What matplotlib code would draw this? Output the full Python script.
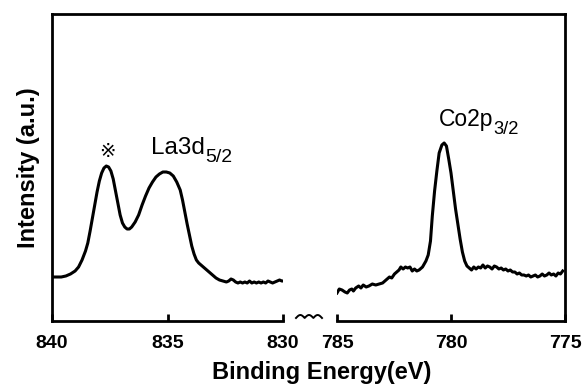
import numpy as np
import matplotlib
matplotlib.use("Agg")
import matplotlib.pyplot as plt

plt.rcParams["font.family"] = ["Liberation Sans", "DejaVu Sans"]

# La 3d region (binding energy in eV, intensity in a.u.)
la_energy = [
    840.00, 839.80, 839.60, 839.40, 839.20, 839.00, 838.85, 838.70, 838.55,
    838.45, 838.35, 838.25, 838.15, 838.05, 837.95, 837.85, 837.75, 837.65,
    837.55, 837.45, 837.35, 837.25, 837.15, 837.05, 836.95, 836.85, 836.75,
    836.65, 836.55, 836.40, 836.25, 836.10, 835.95, 835.80, 835.65, 835.50,
    835.35, 835.20, 835.05, 834.90, 834.75, 834.60, 834.45, 834.35, 834.25,
    834.15, 834.05, 833.95, 833.85, 833.75, 833.65, 833.55, 833.45, 833.35,
    833.20, 833.05, 832.90, 832.75, 832.60, 832.45, 832.35, 832.25, 832.15,
    832.05, 831.95, 831.85, 831.75, 831.65, 831.55, 831.45, 831.35, 831.25,
    831.15, 831.05, 830.95, 830.85, 830.75, 830.65, 830.55, 830.45, 830.35,
    830.25, 830.15, 830.05, 830.00,
]
la_intensity = [
    44, 44, 44, 45, 47, 50, 54, 61, 70,
    78, 90, 103, 116, 129, 140, 148, 153, 155,
    154, 150, 142, 130, 118, 106, 98, 94, 92,
    92, 94, 99, 106, 116, 125, 133, 139, 144,
    147, 149, 149, 148, 145, 139, 131, 121, 109,
    97, 86, 75, 67, 61, 58, 56, 54, 52,
    49, 46, 43, 41, 40, 39, 40, 42, 41,
    39, 38, 39, 38, 39, 38, 40, 38, 39,
    38, 39, 38, 39, 38, 40, 39, 38, 39,
    40, 41, 40, 40,
]

# Co 2p region
co_energy = [
    785.00, 784.90, 784.78, 784.65, 784.55, 784.45, 784.35, 784.28, 784.18,
    784.05, 783.95, 783.85, 783.72, 783.60, 783.45, 783.30, 783.15, 783.00,
    782.85, 782.70, 782.60, 782.48, 782.38, 782.28, 782.20, 782.10, 782.00,
    781.90, 781.80, 781.70, 781.60, 781.50, 781.40, 781.25, 781.10, 781.00,
    780.90, 780.82, 780.72, 780.62, 780.52, 780.40, 780.30, 780.20, 780.10,
    780.00, 779.90, 779.80, 779.70, 779.60, 779.50, 779.40, 779.30, 779.20,
    779.10, 779.00, 778.90, 778.80, 778.70, 778.60, 778.50, 778.40, 778.30,
    778.20, 778.10, 778.00, 777.90, 777.80, 777.70, 777.60, 777.50, 777.40,
    777.30, 777.20, 777.10, 777.00, 776.90, 776.80, 776.70, 776.60, 776.50,
    776.40, 776.30, 776.20, 776.10, 776.00, 775.90, 775.80, 775.70, 775.60,
    775.50, 775.40, 775.30, 775.20, 775.10,
]
co_intensity = [
    28, 32, 31, 29, 28, 31, 32, 30, 33,
    35, 33, 36, 34, 35, 37, 36, 37, 38,
    41, 44, 43, 47, 49, 51, 54, 52, 54,
    53, 54, 50, 52, 50, 51, 54, 60, 66,
    80, 105, 130, 150, 168, 176, 178, 175, 162,
    148, 130, 112, 97, 82, 69, 60, 55, 53,
    51, 54, 52, 54, 53, 56, 53, 55, 54,
    52, 55, 54, 52, 53, 51, 52, 50, 51,
    49, 49, 47, 48, 46, 46, 45, 46, 44,
    45, 46, 44, 45, 47, 45, 46, 48, 46,
    47, 45, 48, 47, 50,
]

la_ticks = [840, 835, 830]
co_ticks = [785, 780, 775]
y_max = 307

W, H = 585, 387
fig = plt.figure(figsize=(W / 100, H / 100), dpi=100)


def fx(px):
    return px / W


def fy(py):
    return 1 - py / H


left, right, top, bottom = 52, 565, 14, 321
gap_l, gap_r = 283, 337
ax_h = fy(top) - fy(bottom)

# outer frame (top, left, right spines)
frame = fig.add_axes([fx(left), fy(bottom), fx(right - left), ax_h])
frame.set_xticks([])
frame.set_yticks([])
frame.spines["bottom"].set_visible(False)
for s in ["top", "left", "right"]:
    frame.spines[s].set_linewidth(2.0)
frame.set_ylabel("Intensity (a.u.)", fontsize=17, fontweight="bold")
frame.yaxis.set_label_coords(-0.023, 0.5)

ax1 = fig.add_axes([fx(left), fy(bottom), fx(gap_l - left), ax_h])
ax2 = fig.add_axes([fx(gap_r), fy(bottom), fx(right - gap_r), ax_h])

for ax, e, i, ticks in [
    (ax1, la_energy, la_intensity, la_ticks),
    (ax2, co_energy, co_intensity, co_ticks),
]:
    ax.patch.set_visible(False)
    ax.plot(e, i, color="black", lw=2.2, solid_joinstyle="round")
    ax.set_xlim(ticks[0], ticks[-1])
    ax.set_ylim(0, y_max)
    ax.set_yticks([])
    ax.set_xticks(ticks)
    ax.tick_params(axis="x", direction="in", length=5, width=2.0, pad=10,
                   labelsize=14)
    for lab in ax.get_xticklabels():
        lab.set_fontweight("bold")
    for s in ["top", "left", "right"]:
        ax.spines[s].set_visible(False)
    ax.spines["bottom"].set_linewidth(2.0)

# axis break squiggle
t = np.linspace(0, 1, 200)
wx = 296 + 26 * t
wy = 318 - 3 * np.abs(np.sin(3 * np.pi * t))
fig.add_artist(plt.Line2D(fx(wx), fy(wy), color="black", lw=1.4))

# peak labels
ax1.text(837.62, 160, "\u203b", ha="center", va="bottom", fontsize=14,
         family=["DejaVu Sans"])


def peak_label(ax, x, y, main, sub, size):
    txt = ax.text(x, y, main, ha="left", va="baseline", fontsize=size)
    ax.annotate(sub, xy=(1, y), xycoords=(txt, "data"),
                xytext=(0.5, -6), textcoords="offset points",
                ha="left", va="baseline", fontsize=size * 0.8)


peak_label(ax1, 835.72, 167, "La3d", "5/2", 17.5)
peak_label(ax2, 780.55, 195, "Co2p", "3/2", 16.5)

fig.text(fx(322), fy(373), "Binding Energy(eV)", ha="center", va="center",
         fontsize=17, fontweight="bold")

fig.savefig("out.png", dpi=100)
